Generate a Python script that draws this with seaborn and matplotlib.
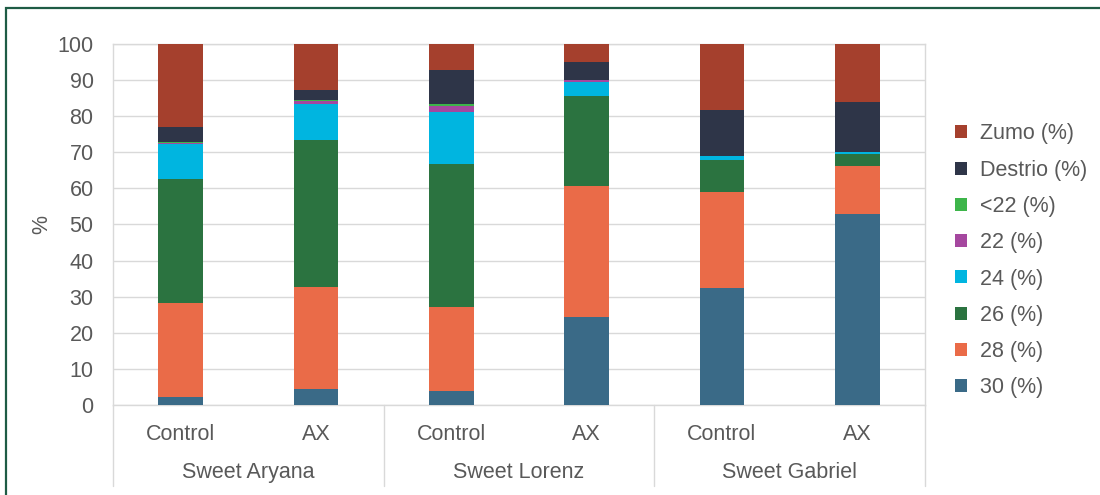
import matplotlib
matplotlib.use("Agg")
import matplotlib.pyplot as plt
import matplotlib.transforms as mtransforms
from matplotlib.patches import Patch, Rectangle
import numpy as np
import pandas as pd
import seaborn as sns

# ---- data -------------------------------------------------------------
varieties = ["Sweet Aryana", "Sweet Lorenz", "Sweet Gabriel"]
treatments = ["Control", "AX"]

# size-class shares (%) per bar, order: Aryana C, Aryana AX, Lorenz C, Lorenz AX, Gabriel C, Gabriel AX
cal_30 = [2.3, 4.4, 3.9, 24.5, 32.3, 52.8]
cal_28 = [26.0, 28.4, 23.3, 36.2, 26.7, 13.4]
cal_26 = [34.4, 40.6, 39.5, 25.0, 8.9, 3.3]
cal_24 = [9.5, 10.0, 14.5, 3.7, 1.1, 0.7]
cal_22 = [0.5, 0.9, 1.5, 0.6, 0.0, 0.0]
cal_lt22 = [0.1, 0.2, 0.7, 0.1, 0.0, 0.0]
destrio = [4.3, 2.8, 9.3, 4.9, 12.7, 13.8]
zumo = [22.9, 12.7, 7.3, 5.0, 18.3, 16.0]

series_names = ["30 (%)", "28 (%)", "26 (%)", "24 (%)", "22 (%)", "<22 (%)", "Destrio (%)", "Zumo (%)"]
series_values = [cal_30, cal_28, cal_26, cal_24, cal_22, cal_lt22, destrio, zumo]
series_colors = ["#3A6A87", "#EA6B48", "#2B7340", "#00B5E0", "#A5479F", "#3DB54A", "#2E3548", "#A5402D"]

# ---- style ------------------------------------------------------------
sns.set_theme(style="white")
plt.rcParams["font.family"] = ["Liberation Sans", "DejaVu Sans"]
TXT = "#595959"
GRID = "#D9D9D9"
FS = 15.5

bar_keys = [f"{v}|{t}" for v in varieties for t in treatments]
frame = pd.DataFrame({"bar": bar_keys})
for name, vals in zip(series_names, series_values):
    frame[name] = vals
cum = frame[series_names].cumsum(axis=1)

fig = plt.figure(figsize=(11, 4.95), dpi=100)
ax = fig.add_axes([113 / 1100, 90 / 495, 812 / 1100, 361 / 495])

# stacked bars: draw cumulative totals from the top layer down
for name, color in reversed(list(zip(series_names, series_colors))):
    sns.barplot(x=frame["bar"], y=cum[name], order=bar_keys, color=color,
                saturation=1, width=0.33, ax=ax, zorder=3, linewidth=0)

ax.set_xlim(-0.5, 5.5)
ax.set_ylim(0, 100)
ax.set_yticks(np.arange(0, 101, 10))
ax.set_yticklabels([str(v) for v in range(0, 101, 10)], color=TXT, fontsize=FS)
ax.set_xticks(range(len(bar_keys)))
ax.set_xticklabels([t for _ in varieties for t in treatments], color=TXT, fontsize=FS)
ax.tick_params(axis="y", length=0, pad=14)
ax.tick_params(axis="x", length=0, pad=14)
ax.set_xlabel("")
ax.set_ylabel("%", color=TXT, fontsize=FS)
ax.yaxis.set_label_coords(-0.075, 0.5)

ax.yaxis.grid(True, color=GRID, linewidth=1, zorder=0)
ax.set_axisbelow(True)
for side in ["left", "right", "top", "bottom"]:
    ax.spines[side].set_visible(True)
    ax.spines[side].set_color(GRID)
    ax.spines[side].set_linewidth(1)

# second-level category axis: variety names and separators
blend = mtransforms.blended_transform_factory(ax.transData, ax.transAxes)
for xb in [-0.5, 1.5, 3.5, 5.5]:
    ax.plot([xb, xb], [0, -0.224], transform=blend, color=GRID, linewidth=1, clip_on=False)
for i, v in enumerate(varieties):
    ax.text(2 * i + 0.5, -0.188, v, transform=blend, ha="center", va="center",
            color=TXT, fontsize=FS)

# legend, top layer first
handles = [Patch(facecolor=c, edgecolor="none", label=n)
           for n, c in reversed(list(zip(series_names, series_colors)))]
leg = fig.legend(handles=handles, loc="center left", bbox_to_anchor=(955 / 1100, 0.473),
                 frameon=False, fontsize=FS, handlelength=0.55, handleheight=0.55,
                 handletextpad=0.6, labelspacing=0.71, borderpad=0, borderaxespad=0)
for t in leg.get_texts():
    t.set_color(TXT)

# outer frame
fig.patches.append(Rectangle((6 / 1100, -0.05), 1.2, (495 - 8) / 495 + 0.05,
                             transform=fig.transFigure, fill=False,
                             edgecolor="#1E5C45", linewidth=1.6, clip_on=False))

fig.savefig("out.png", dpi=100, facecolor="white")
